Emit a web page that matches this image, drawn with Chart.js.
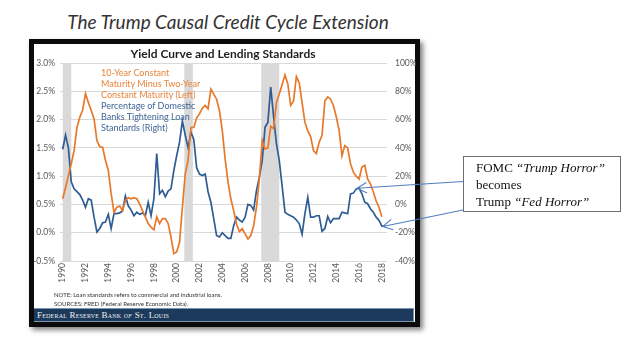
<!DOCTYPE html>
<html>
<head>
<meta charset="utf-8">
<script src="https://cdn.jsdelivr.net/npm/chart.js@4.4.1/dist/chart.umd.min.js"></script>
<style>
  html, body { margin: 0; padding: 0; background: #fff; }
  #wrap { position: relative; width: 640px; height: 339px; overflow: hidden; background: #fff; font-family: Lato, "Open Sans", sans-serif; }
  #frame { position: absolute; left: 29px; top: 39px; width: 381px; height: 278px; border: 5px solid #0b0b0b; background: #fff; box-shadow: 3px 3px 5px rgba(0,0,0,0.5); }
  #chart { position: absolute; left: 0; top: 0; }
  .txt { position: absolute; white-space: nowrap; }
  #mainTitle { left: 28px; width: 400px; top: 10px; text-align: center; font-style: italic; font-weight: 400; font-size: 19px; color: #333; }
  #chartTitle { left: 23px; width: 400px; top: 46px; text-align: center; font-weight: 700; font-size: 12px; color: #1f1f1f; }
  #legend { left: 101px; top: 67px; font-size: 9px; line-height: 11.1px; }
  #legend .o { color: #e8843a; }
  #legend .b { color: #3f6597; }
  #note { left: 54px; top: 291px; font-size: 6px; line-height: 8.5px; color: #333; }
  #bar { position: absolute; left: 34px; top: 308px; width: 379px; height: 12px; background: #1c3a5c; border: 1px solid #7d93ad; border-left: none; }
  #bar span { position: absolute; left: 3px; top: 1px; font-family: "Liberation Serif", "DejaVu Serif", serif; font-size: 9px; font-variant: small-caps; letter-spacing: 0.2px; color: #f2f2f2; }
  #callout { left: 476px; top: 159px; font-family: "Liberation Serif", "DejaVu Serif", serif; font-size: 13px; line-height: 17px; color: #111; }
  #callout i { font-style: italic; }
</style>
</head>
<body>
<div id="wrap">
  <div class="txt" id="mainTitle">The Trump Causal Credit Cycle Extension</div>
  <div id="frame"></div>
  <canvas id="chart" width="640" height="339"></canvas>
  <div class="txt" id="callout">FOMC <i>“Trump Horror”</i><br>becomes<br>Trump <i>“Fed Horror”</i></div>
  <div class="txt" id="chartTitle">Yield Curve and Lending Standards</div>
  <div class="txt" id="legend">
    <div class="o">10-Year Constant</div>
    <div class="o">Maturity Minus Two-Year</div>
    <div class="o">Constant Maturity (Left)</div>
    <div class="b">Percentage of Domestic</div>
    <div class="b">Banks Tightening Loan</div>
    <div class="b">Standards (Right)</div>
  </div>
  <div class="txt" id="note">NOTE: Loan standards refers to commercial and industrial loans.<br>SOURCES: FRED (Federal Reserve Economic Data).</div>
  <div id="bar"><span>Federal Reserve Bank <i>of</i> St. Louis</span></div>
</div>
<script>
// Quarterly observations, 1990Q3 through 2018Q4
const firstYear = 1990, firstQ = 3, lastYear = 2018, lastQ = 4;
const quarters = [];
for (let y = firstYear; y <= lastYear; y++) {
  for (let q = 1; q <= 4; q++) {
    if (y === firstYear && q < firstQ) continue;
    if (y === lastYear && q > lastQ) continue;
    quarters.push(y + 'Q' + q);
  }
}

// 10-Year Treasury Constant Maturity minus 2-Year (percent, left axis)
const yieldSpread = [
  0.60, 0.80,
  1.01, 1.22, 1.45, 1.86,
  2.04, 2.17, 2.46, 2.30,
  2.16, 2.01, 1.63, 1.52,
  1.51, 1.28, 1.10, 0.69,
  0.36, 0.45, 0.47, 0.39,
  0.57, 0.62, 0.60, 0.62,
  0.60, 0.51, 0.39, 0.28,
  0.16, 0.10, 0.05, 0.28,
  0.16, 0.25, 0.25, 0.16,
  -0.08, -0.37, -0.34, -0.17,
  0.45, 1.04, 1.28, 1.86,
  1.86, 2.03, 2.10, 2.20,
  2.25, 2.19, 2.54, 2.45,
  2.36, 2.16, 1.81, 1.30,
  0.90, 0.60, 0.39, 0.15,
  0.02, 0.07, -0.02, -0.11,
  -0.05, 0.12, 0.45, 0.95,
  1.63, 1.48, 1.50, 1.88,
  1.84, 2.30, 2.45, 2.62,
  2.79, 2.63, 2.25, 2.33,
  2.76, 2.65, 2.30, 1.95,
  1.80, 1.70, 1.45, 1.40,
  1.60, 1.72, 2.33, 2.40,
  2.36, 2.25, 2.05, 1.81,
  1.36, 1.54, 1.50, 1.22,
  1.07, 1.00, 0.95, 1.16,
  1.19, 0.95, 0.86, 0.72,
  0.56, 0.45, 0.28, null
];

// Net percentage of domestic banks tightening C&I loan standards (right axis)
const loanTightening = [
  39, 49,
  40, 16, 11, 9,
  7, 3, -2, 4,
  3, -9, -19.5, -17,
  -13, -12.5, -7, -17,
  -6.5, -6.5, -6, -4.5,
  6, -1, -4, -8,
  -5.5, -7, -6, -8,
  1.5, -8, 4, 36,
  7.5, 10, 5.5, 9.5,
  11, 24, 34.5, 44,
  59, 49, 40, 51,
  46, 26, 21.5, 20.5,
  21.5, 9, 1.5, -10,
  -22, -23, -20, -22,
  -24, -24, -15, -9,
  -11, -12.5, -9, 0,
  -0.7, -4, 10, 19,
  31, 54.5, 58, 83,
  62, 43, 31, 13,
  -5.5, -7, -8, -9,
  -11, -13.5, -21, -6.5,
  5, -9, -9, -8,
  -8, -19, -17, -8.5,
  -13, -10, -10, -10,
  -5.5, -6, -6.6, 7.5,
  8, 11, 11.5, 7.5,
  1.6, 0.5, -3, -5.5,
  -9, -11.3, -15.3, -15.3
];

// Year labels on the time axis (each placed at that year's third quarter)
const yearTicks = ['1990','1992','1994','1996','1998','2000','2002','2004','2006','2008','2010','2012','2014','2016','2018'];

// NBER recessions (first and last month)
const recessions = [['1990-07', '1991-03'], ['2001-03', '2001-11'], ['2007-12', '2009-06']];

// Callout targets on the lending-standards line
const calloutTargets = ['2016Q3', '2018Q4'];

const ORANGE = '#e8782a';
const BLUE = '#2f5d93';

function monthToIndex(ym, endOfMonth) {
  const [y, m] = ym.split('-').map(Number);
  return (y - firstYear) * 4 + (m - 1) / 3 - (firstQ - 1) + (endOfMonth ? 1 / 3 : 0);
}
const tickIndex = yearTicks.map(y => quarters.indexOf(y + 'Q3'));

const recessionShading = {
  id: 'recessionShading',
  beforeDatasetsDraw(chart) {
    const { ctx, chartArea, scales } = chart;
    ctx.save();
    ctx.fillStyle = '#d9d9d9';
    recessions.forEach(([a, b]) => {
      const x0 = scales.x.getPixelForValue(monthToIndex(a, false));
      const x1 = scales.x.getPixelForValue(monthToIndex(b, true));
      ctx.fillRect(x0, chartArea.top, x1 - x0, chartArea.bottom - chartArea.top);
    });
    ctx.restore();
  }
};

// Callout box outline plus the two arrows pointing at the lending-standards line
const calloutArrows = {
  id: 'calloutArrows',
  afterDraw(chart) {
    const { ctx, scales } = chart;
    ctx.save();
    ctx.strokeStyle = '#6e6e6e';
    ctx.lineWidth = 1;
    ctx.strokeRect(463.5, 156.5, 157, 55);

    const starts = [[463, 181.5], [463, 210]];
    ctx.strokeStyle = '#4f7fbf';
    ctx.lineWidth = 1.1;
    calloutTargets.forEach((q, k) => {
      const i = quarters.indexOf(q);
      const px = scales.x.getPixelForValue(i);
      const py = scales.y1.getPixelForValue(loanTightening[i]);
      const [sx, sy] = starts[k];
      const ang = Math.atan2(py - sy, px - sx);
      const tx = px + 2 * Math.cos(ang), ty = py + 2 * Math.sin(ang);
      ctx.beginPath();
      ctx.moveTo(sx, sy);
      ctx.lineTo(tx, ty);
      const L = 11, spread = 0.5;
      ctx.moveTo(tx - L * Math.cos(ang - spread), ty - L * Math.sin(ang - spread));
      ctx.lineTo(tx, ty);
      ctx.lineTo(tx - L * Math.cos(ang + spread), ty - L * Math.sin(ang + spread));
      ctx.stroke();
    });
    ctx.restore();
  }
};

const axisFont = { family: 'Lato, "Open Sans", sans-serif', size: 8.5 };

new Chart(document.getElementById('chart'), {
  type: 'line',
  data: {
    datasets: [
      {
        label: '10-Year Constant Maturity Minus Two-Year Constant Maturity (Left)',
        data: quarters.map((q, i) => ({ x: i, y: yieldSpread[i] })),
        yAxisID: 'y',
        borderColor: ORANGE,
        borderWidth: 1.7,
        pointRadius: 0,
        tension: 0,
        spanGaps: false
      },
      {
        label: 'Percentage of Domestic Banks Tightening Loan Standards (Right)',
        data: quarters.map((q, i) => ({ x: i, y: loanTightening[i] })),
        yAxisID: 'y1',
        borderColor: BLUE,
        borderWidth: 1.7,
        pointRadius: 0,
        tension: 0
      }
    ]
  },
  options: {
    responsive: false,
    animation: false,
    devicePixelRatio: 1,
    layout: { padding: { left: 34, right: 223, top: 63, bottom: 54 } },
    plugins: { legend: { display: false }, tooltip: { enabled: false } },
    scales: {
      x: {
        type: 'linear',
        min: -0.95,
        max: 113.8,
        afterBuildTicks: axis => { axis.ticks = tickIndex.map(v => ({ value: v })); },
        afterFit: s => { s.height = 24; },
        ticks: {
          autoSkip: false,
          minRotation: 90,
          maxRotation: 90,
          padding: 2,
          color: '#595959',
          font: axisFont,
          callback: v => quarters[v] ? quarters[v].slice(0, 4) : ''
        },
        grid: { display: false, drawTicks: false },
        border: { display: false }
      },
      y: {
        position: 'left',
        min: -0.5,
        max: 3.0,
        afterFit: s => { s.width = 26; },
        ticks: { stepSize: 0.5, padding: 5, color: '#595959', font: axisFont, callback: v => v.toFixed(1) + '%' },
        grid: { color: '#d9d9d9', lineWidth: 1, drawTicks: false },
        border: { display: false }
      },
      y1: {
        position: 'right',
        min: -40,
        max: 100,
        afterFit: s => { s.width = 30; },
        ticks: { stepSize: 20, padding: 8, color: '#595959', font: axisFont, callback: v => v + '%' },
        grid: { display: false, drawTicks: false },
        border: { display: false }
      }
    }
  },
  plugins: [recessionShading, calloutArrows]
});
</script>
</body>
</html>
